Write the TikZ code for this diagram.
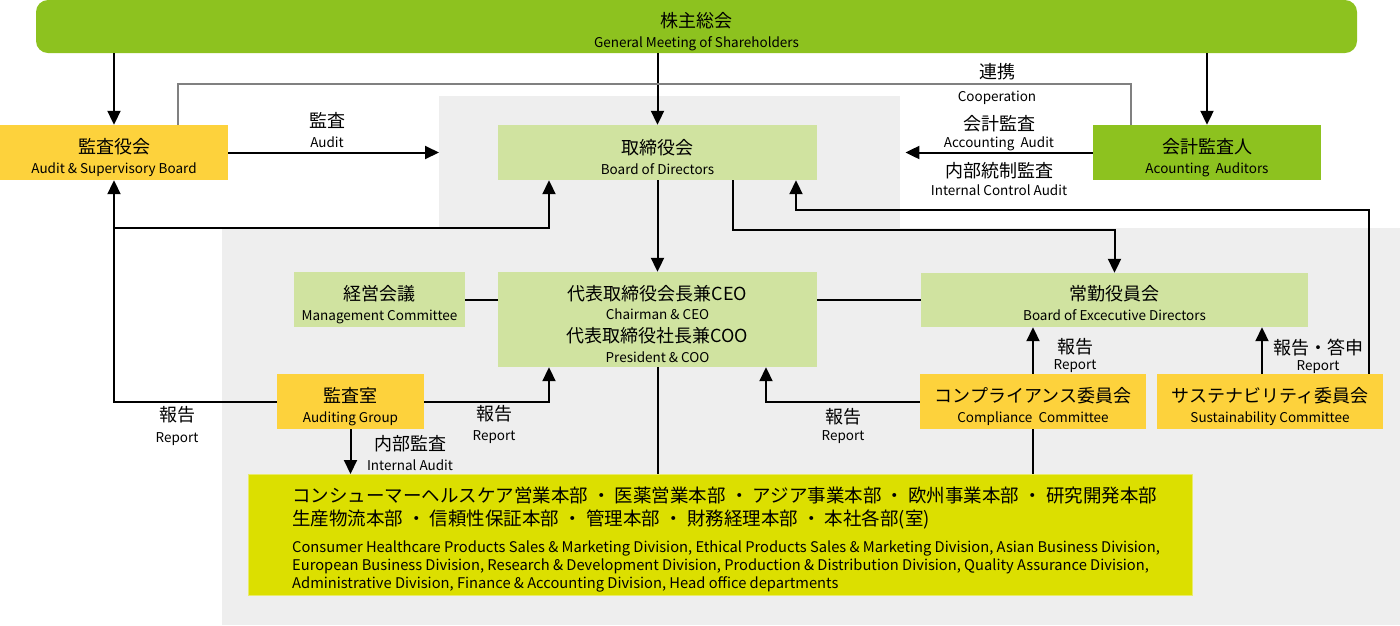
\documentclass[tikz,border=0pt]{standalone}
\usepackage{fontspec}
\setmainfont{Noto Sans CJK JP}
\usetikzlibrary{arrows.meta}
\usetikzlibrary{positioning}
\usetikzlibrary{calc}
\definecolor{gmgreen}{HTML}{8DC21F}
\definecolor{paleleaf}{HTML}{D0E3A0}
\definecolor{amber}{HTML}{FDD23C}
\definecolor{lime}{HTML}{DCDF00}
\definecolor{limeedge}{HTML}{E9EB6A}
\definecolor{panel}{HTML}{EEEEEE}
\definecolor{coopgray}{HTML}{808080}
\newcommand{\jp}{\fontsize{18}{20}\selectfont}
\newcommand{\en}{\fontsize{13.5}{20}\selectfont}
\tikzset{box/.style={rectangle, inner sep=0pt, align=center, font=\fontsize{13.5}{20}\selectfont,
                     text height=45pt}}
\tikzset{arr/.style={draw, line width=2pt, -{Triangle[length=14pt,width=13pt]}}}
\tikzset{link/.style={draw, line width=2pt}}
\tikzset{lbl/.style={inner sep=0pt, align=center, font=\fontsize{13.5}{20}\selectfont}}

\begin{document}
\begin{tikzpicture}
    [
      x=1pt, y=-1pt,
      panelbox/.style = {fill=panel, inner sep=0pt, anchor=north west},
    ]
    \useasboundingbox (0,0) rectangle (1400,625);

    % shaded areas
    \node [panelbox, minimum width=461pt, minimum height=132pt] (bodarea) at (439,96) {};
    \node [panelbox, minimum width=1178pt, minimum height=397pt] (execarea) at (222,228) {};

    % boxes
    \node [box, fill=gmgreen, rounded corners=12pt, minimum width=1321pt, minimum height=53pt] (gm) at (696.5,26.5)
      {{\jp 株主総会}\\{\en General Meeting of Shareholders}};
    \node [box, fill=amber, minimum width=228pt, minimum height=55pt] (asb) at (114,152.5)
      {{\jp 監査役会}\\{\en Audit \& Supervisory Board}};
    \node [box, fill=paleleaf, minimum width=319pt, minimum height=55pt] (bod) at (657.5,152.5)
      {{\jp 取締役会}\\{\en Board of Directors}};
    \node [box, fill=gmgreen, minimum width=228pt, minimum height=55pt] (aa) at (1207,152.5)
      {{\jp 会計監査人}\\{\en Acounting\ \ Auditors}};
    \node [box, fill=paleleaf, minimum width=171pt, minimum height=55pt] (mc) at (379.5,299.5)
      {{\jp 経営会議}\\{\en Management Committee}};
    \node [box, fill=paleleaf, minimum width=319pt, minimum height=95pt, text height=86pt] (ceo) at (657.5,319.5)
      {{\jp 代表取締役会長兼CEO}\\[-1pt]{\en Chairman \& CEO}\\[3pt]{\jp 代表取締役社長兼COO}\\{\en President \& COO}};
    \node [box, fill=paleleaf, minimum width=387pt, minimum height=54pt, text height=42pt] (bed) at (1114.5,300)
      {{\jp 常勤役員会}\\{\en Board of Excecutive Directors}};
    \node [box, fill=amber, minimum width=147pt, minimum height=55pt] (ag) at (350.5,401.5)
      {{\jp 監査室}\\{\en Auditing Group}};
    \node [box, fill=amber, minimum width=226pt, minimum height=55pt] (cc) at (1033,401.5)
      {{\jp コンプライアンス委員会}\\{\en Compliance\ \ Committee}};
    \node [box, fill=amber, minimum width=226pt, minimum height=55pt] (sc) at (1270,401.5)
      {{\jp サステナビリティ委員会}\\{\en Sustainability Committee}};
    \node [fill=lime, draw=limeedge, inner sep=0pt, minimum width=944pt, minimum height=121pt, anchor=north west] (div) at (248,474) {};
    \node [inner sep=0pt, align=left, anchor=north west, font=\fontsize{14.7}{18}\selectfont] (divtext) at (292,486.5)
      {{\fontsize{18.5}{23}\selectfont コンシューマーヘルスケア営業本部 ・ 医薬営業本部 ・ アジア事業本部 ・ 欧州事業本部 ・ 研究開発本部}\\[5pt]
       {\fontsize{18.5}{23}\selectfont 生産物流本部 ・ 信頼性保証本部 ・ 管理本部 ・ 財務経理本部 ・ 本社各部(室)}\\[9pt]
       Consumer Healthcare Products Sales \& Marketing Division, Ethical Products Sales \& Marketing Division, Asian Business Division,\\
       European Business Division, Research \& Development Division, Production \& Distribution Division, Quality Assurance Division,\\
       Administrative Division, Finance \& Accounting Division, Head office departments};

    % shareholders
    \draw [arr] (gm.south -| asb.north) -- (asb.north);
    \draw [arr] (gm.south -| bod.north) -- (bod.north);
    \draw [arr] (gm.south -| aa.north) -- (aa.north);

    % cooperation
    \coordinate (cooptop) at (657,84);
    \draw [link, coopgray] ([xshift=64pt]asb.north) |- (cooptop) -| ([xshift=-76pt]aa.north);
    \node [lbl] (cooplbl) at (997,84) {{\jp 連携}\\[3pt]{\en Cooperation}};

    % audits of the board
    \draw [arr] (asb.east) -- (bodarea.west |- asb.east);
    \node [lbl] (auditlbl) at (327,130) {{\jp 監査}\\{\en Audit}};
    \draw [arr] (aa.west) -- ([xshift=5pt]bodarea.east |- aa.west);
    \node [lbl] (acclbl) at (999,133) {{\jp 会計監査}\\[-3pt]{\en Accounting\ \ Audit}};
    \node [lbl] (iclbl) at (999,179) {{\jp 内部統制監査}\\[-2pt]{\en Internal Control Audit}};

    % auditing group reports
    \coordinate (split) at (asb.south |- bodarea.south);
    \draw [arr] (ag.west) -| (asb.south);
    \draw [arr] (split) -| ([xshift=-108.5pt]bod.south);
    \node [lbl] (rep1) at (177,426) {{\jp 報告}\\[1pt]{\en Report}};
    \draw [arr] (ag.east) -| ([xshift=-108.5pt]ceo.south);
    \node [lbl] (rep2) at (494,424) {{\jp 報告}\\{\en Report}};
    \draw [arr] (ag.south) -- (ag.south |- div.north);
    \node [lbl] (intlbl) at (410,453) {{\jp 内部監査}\\{\en Internal Audit}};

    % board to executives
    \draw [arr] (bod.south) -- (ceo.north);
    \draw [arr] ([xshift=75.5pt]bod.south) -- ++(0,50) -| (bed.north);
    \draw [link] (mc.east) -- (mc.east -| ceo.west);
    \draw [link] (bed.west) -- (bed.west -| ceo.east);

    % committees
    \draw [arr] (cc.north) -- (cc.north |- bed.south);
    \node [lbl] (rep3) at (1075,355) {{\jp 報告}\\[-4pt]{\en Report}};
    \draw [arr] ([xshift=-8pt]sc.north) -- ([xshift=-8pt]sc.north |- bed.south);
    \node [lbl] (rep4) at (1318,356) {{\jp 報告・答申}\\[-4pt]{\en Report}};
    \coordinate (sreturn) at (796,210);
    \draw [arr] ([xshift=99pt]sc.north) |- (sreturn) -- ([xshift=138.5pt]bod.south);
    \draw [arr] (cc.west) -| ([xshift=108.5pt]ceo.south);
    \node [lbl] (rep5) at (843,426) {{\jp 報告}\\[-3pt]{\en Report}};

    % divisions
    \draw [link] (ceo.south) -- (ceo.south |- div.north);
    \draw [link] (cc.south) -- (cc.south |- div.north);

  \end{tikzpicture}
\end{document}
